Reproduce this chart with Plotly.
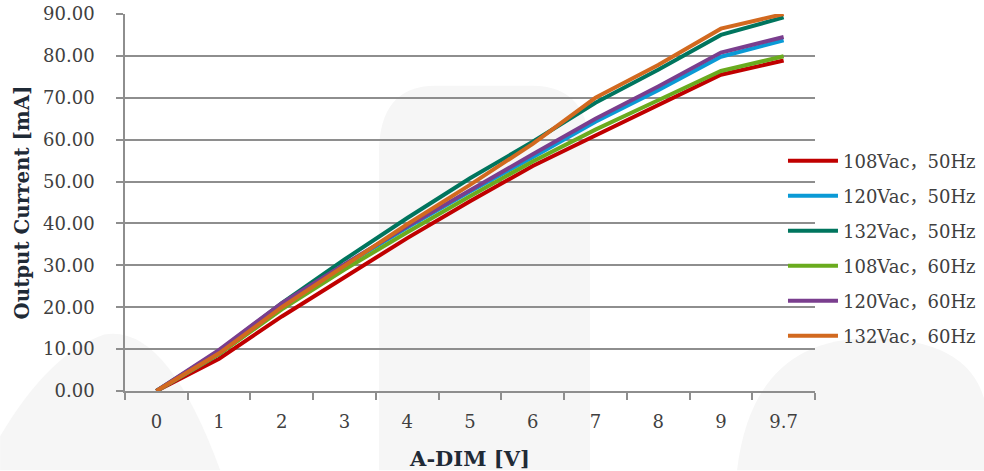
import plotly.graph_objects as go

x_labels = ["0", "1", "2", "3", "4", "5", "6", "7", "8", "9", "9.7"]

series_names = ["108Vac，50Hz", "120Vac，50Hz", "132Vac，50Hz",
                "108Vac，60Hz", "120Vac，60Hz", "132Vac，60Hz"]

v108_50 = [0, 7.7, 17.8, 27.2, 36.5, 45.3, 53.7, 61.0, 68.2, 75.5, 78.9]
v120_50 = [0, 8.8, 20.0, 30.0, 39.0, 47.6, 55.8, 64.3, 71.8, 79.8, 83.7]
v132_50 = [0, 9.5, 21.0, 31.4, 41.3, 50.8, 59.5, 68.8, 76.7, 85.0, 89.2]
v108_60 = [0, 8.8, 19.5, 29.0, 37.9, 46.5, 54.8, 62.4, 69.4, 76.4, 79.9]
v120_60 = [0, 9.8, 21.0, 30.3, 39.3, 48.0, 56.5, 65.0, 72.7, 80.8, 84.5]
v132_60 = [0, 9.0, 20.0, 29.8, 39.8, 49.2, 59.0, 70.0, 77.8, 86.5, 90.0]

y_ticks = [0, 10, 20, 30, 40, 50, 60, 70, 80, 90]

colors = ["#C00000", "#0A9AD6", "#00755E", "#6AAB1E", "#7A3E8E", "#D2691F"]
all_values = [v108_50, v120_50, v132_50, v108_60, v120_60, v132_60]

FONT = "DejaVu Serif, Noto Sans CJK SC, serif"
GRID = "#8E8E8E"

fig = go.Figure()
for i, (name, vals) in enumerate(zip(series_names, all_values)):
    fig.add_trace(go.Scatter(
        x=x_labels, y=vals, mode="lines", name=name,
        legendgroup=f"g{i}",
        line=dict(color=colors[i], width=4),
    ))

# faint watermark shapes in the background
bg = "#F6F6F6"
fig.add_shape(type="path", xref="paper", yref="paper", layer="below",
              path="M -0.181,-0.21 L -0.181,-0.12 Q -0.11,0.10 -0.03,0.15 Q 0.06,0.18 0.138,-0.21 Z",
              fillcolor=bg, line_width=0)
fig.add_shape(type="path", xref="paper", yref="paper", layer="below",
              path="M 0.368,-0.21 L 0.368,0.63 Q 0.368,0.81 0.45,0.81 L 0.59,0.81 Q 0.674,0.81 0.674,0.63 L 0.674,-0.21 Z",
              fillcolor=bg, line_width=0)
fig.add_shape(type="path", xref="paper", yref="paper", layer="below",
              path="M 0.887,-0.21 Q 0.91,0.14 1.08,0.14 Q 1.22,0.14 1.245,-0.02 L 1.245,-0.21 Z",
              fillcolor=bg, line_width=0)

fig.update_layout(
    width=984, height=471,
    margin=dict(l=125, r=169, t=14, b=80, autoexpand=False),
    paper_bgcolor="white", plot_bgcolor="rgba(0,0,0,0)",
    font=dict(family=FONT, size=18, color="#404040"),
    showlegend=True,
    legend=dict(
        x=0.9536, y=0.659, xanchor="left", yanchor="top",
        font=dict(family=FONT, size=18, color="#404040"),
        tracegroupgap=8.6, traceorder="grouped", itemwidth=50,
        bgcolor="rgba(0,0,0,0)",
    ),
    xaxis=dict(
        type="category", range=[-0.5, 10.5], automargin=False,
        showgrid=False, showline=True, linecolor=GRID, linewidth=1.5,
        ticks="outside", tickson="boundaries", ticklen=7, tickcolor=GRID, tickwidth=1.5,
        tickfont=dict(family=FONT, size=18, color="#404040"),
        ticklabelstandoff=14,
        title=dict(text="A-DIM [V]", font=dict(family=FONT, size=21, color="#1F2A36", weight="bold"), standoff=26),
        fixedrange=True,
    ),
    yaxis=dict(
        range=[0, 90], tickvals=y_ticks, ticktext=[f"{v:.2f}" for v in y_ticks],
        automargin=False,
        showgrid=True, gridcolor=GRID, gridwidth=1.5,
        showline=True, linecolor=GRID, linewidth=1.5,
        ticks="outside", ticklen=7, tickcolor=GRID, tickwidth=1.5,
        tickfont=dict(family=FONT, size=18, color="#404040"),
        ticklabelstandoff=18,
        zeroline=False,
        title=dict(text="Output Current [mA]", font=dict(family=FONT, size=19.8, color="#1F2A36", weight="bold"), standoff=8),
        fixedrange=True,
    ),
)

fig.write_html("out.html")
